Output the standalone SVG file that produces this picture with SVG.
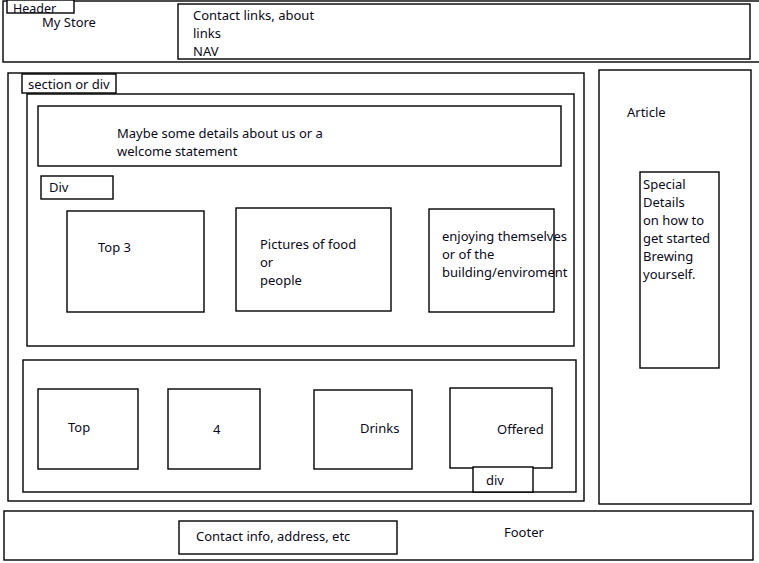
<svg xmlns="http://www.w3.org/2000/svg" width="759" height="563" viewBox="0 0 759 563">
<style>
rect{fill:#fff;stroke:#000;stroke-width:1.4}
text{font-family:"Noto Sans","Open Sans",sans-serif;font-size:13px;fill:#0a0a1a}
</style>
<rect x="0" y="0" width="759" height="563" style="stroke:none"/>
<g id="header">
<rect x="3" y="1" width="760" height="61"/>
<rect x="7" y="0" width="67" height="13"/>
<text x="13" y="12.5" style="font-size:12.5px">Header</text>
<text x="42" y="27">My Store</text>
</g>
<g id="nav">
<rect x="178" y="4" width="572" height="55"/>
<text x="193" y="20">Contact links, about</text>
<text x="193" y="38">links</text>
<text x="193" y="56">NAV</text>
</g>
<g id="section">
<rect x="8" y="73" width="576" height="428"/>
<rect x="22" y="74" width="94" height="19"/>
<text x="28" y="89">section or div</text>
</g>
<g id="inner-section">
<rect x="27" y="94" width="547" height="252"/>
</g>
<g id="welcome">
<rect x="38" y="106" width="523" height="60"/>
<text x="117" y="138">Maybe some details about us or a</text>
<text x="117" y="156">welcome statement</text>
</g>
<g id="div-label">
<rect x="41" y="176" width="72" height="23"/>
<text x="49" y="192">Div</text>
</g>
<g id="top3">
<rect x="67" y="211" width="137" height="101"/>
<text x="98" y="252">Top 3</text>
</g>
<g id="pictures">
<rect x="236" y="208" width="155" height="103"/>
<text x="260" y="249">Pictures of food</text>
<text x="260" y="267">or</text>
<text x="260" y="285">people</text>
</g>
<g id="enjoying">
<rect x="429" y="209" width="125" height="103"/>
<text x="442" y="241">enjoying themselves</text>
<text x="442" y="259">or of the</text>
<text x="442" y="277">building/enviroment</text>
</g>
<g id="article">
<rect x="599" y="70" width="152" height="434"/>
<text x="627" y="117">Article</text>
</g>
<g id="special">
<rect x="640" y="172" width="79" height="196"/>
<text x="643" y="189">Special</text>
<text x="643" y="207">Details</text>
<text x="643" y="225">on how to</text>
<text x="643" y="243">get started</text>
<text x="643" y="261">Brewing</text>
<text x="643" y="279">yourself.</text>
</g>
<g id="bottom-section">
<rect x="23" y="360" width="553" height="132"/>
</g>
<g id="top">
<rect x="38" y="389" width="100" height="80"/>
<text x="68" y="432">Top</text>
</g>
<g id="four">
<rect x="168" y="389" width="92" height="80"/>
<text x="213" y="434">4</text>
</g>
<g id="drinks">
<rect x="314" y="390" width="98" height="79"/>
<text x="360" y="433">Drinks</text>
</g>
<g id="offered">
<rect x="450" y="388" width="102" height="80"/>
<text x="497" y="434">Offered</text>
</g>
<g id="div-bottom">
<rect x="473" y="467" width="60" height="25"/>
<text x="486" y="485">div</text>
</g>
<g id="footer">
<rect x="4" y="511" width="749" height="49"/>
<text x="504" y="537">Footer</text>
</g>
<g id="contact">
<rect x="179" y="521" width="218" height="33"/>
<text x="196" y="541">Contact info, address, etc</text>
</g>
<g id="connectors"/>
</svg>
